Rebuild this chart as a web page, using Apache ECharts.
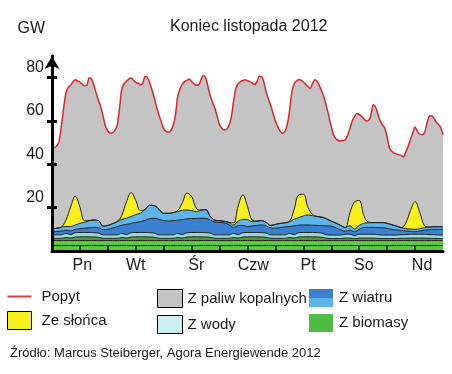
<!DOCTYPE html>
<html><head><meta charset="utf-8">
<script src="https://cdn.jsdelivr.net/npm/echarts@6/dist/echarts.min.js"></script>
<style>html,body{margin:0;padding:0;background:#fff}#c{width:452px;height:374px}</style>
</head><body><div id="c"></div>
<script>
// time axis of the stacked renewables (hours since Monday 00:00, every 2 h)
const hours2 = [0,2,4,6,8,10,12,14,16,18,20,22,24,26,28,30,32,34,36,38,40,42,44,46,48,50,52,54,56,58,60,62,64,66,68,70,72,74,76,78,80,82,84,86,88,90,92,94,96,98,100,102,104,106,108,110,112,114,116,118,120,122,124,126,128,130,132,134,136,138,140,142,144,146,148,150,152,154,156,158,160,162,164,166,168];

// demand (GW), hourly
const demandHours = [0,1,2,3,4,5,6,7,8,9,10,11,12,13,14,15,16,17,18,19,20,21,22,23,24,25,26,27,28,29,30,31,32,33,34,35,36,37,38,39,40,41,42,43,44,45,46,47,48,49,50,51,52,53,54,55,56,57,58,59,60,61,62,63,64,65,66,67,68,69,70,71,72,73,74,75,76,77,78,79,80,81,82,83,84,85,86,87,88,89,90,91,92,93,94,95,96,97,98,99,100,101,102,103,104,105,106,107,108,109,110,111,112,113,114,115,116,117,118,119,120,121,122,123,124,125,126,127,128,129,130,131,132,133,134,135,136,137,138,139,140,141,142,143,144,145,146,147,148,149,150,151,152,153,154,155,156,157,158,159,160,161,162,163,164,165,166,167,168];
const demand = [
48.0,47.8,48.5,50.5,57.5,66,73,75.5,76.5,78,79,78.5,78,77,76.3,76.5,80,79.3,76.5,72.8,69.5,66.3,62,57.5,
55.4,54.5,54.6,55.6,58,65.7,74.8,77.2,78.3,79.3,79.8,78.8,77.8,77.4,76.8,77.5,80.5,80,77.5,74.2,70.5,66.2,62.5,59.5,
56.5,55.2,54.8,55.5,57.8,62.5,71.2,74.8,77,78.2,78.8,79.4,78.2,77.2,76.5,76.6,79,81,80,76,71.7,68.5,65.9,62,
58.2,56.6,55.8,56.2,57.8,61.5,69,75,77.3,78.2,78.7,79,78.6,78.2,77.5,76.8,78,80.5,80.5,78,73.5,70,67,63.5,
60,57.5,55.3,54.4,55,58,64,73,77,78.5,79.2,78.8,78,77,75.8,75,77.5,79,78.2,76,73.5,70.5,66.5,62,
57.5,53.6,51.8,51,50.8,51,51.3,53.3,56.5,60,62,63.5,63,62.2,61,60,60.2,62.5,67.5,66.5,63.3,60,58.2,56.7,
52.5,47.5,46,45.2,44.8,44.5,44.1,43.4,45.8,48.2,51.5,54.5,57.2,55.2,54,53.7,54.5,58.5,62,62.4,61.5,59.6,58.5,57,
53.6];

// renewable layers (GW, thickness of each layer, every 2 h)
const greenBase = [2.5,2.5,2.5,2.5,2.5,2.5,2.5,2.5,2.5,2.5,2.5,2.5,2.5,2.5,2.5,2.5,2.5,2.5,2.5,2.5,2.5,2.5,2.5,2.5,2.5,2.5,2.5,2.5,2.5,2.5,2.5,2.5,2.5,2.5,2.5,2.5,2.5,2.5,2.5,2.5,2.5,2.5,2.5,2.5,2.5,2.5,2.5,2.5,2.5,2.5,2.5,2.5,2.5,2.5,2.5,2.5,2.5,2.5,2.5,2.5,2.5,2.5,2.5,2.5,2.5,2.5,2.5,2.5,2.5,2.5,2.5,2.5,2.5,2.5,2.5,2.5,2.5,2.5,2.5,2.5,2.5,2.5,2.5,2.5,2.5];
const greenUpper = [2.35,2.35,2.35,2.35,2.35,2.35,2.35,2.35,2.35,2.35,2.35,2.35,2.35,2.35,2.35,2.35,2.35,2.35,2.35,2.35,2.35,2.35,2.35,2.35,2.35,2.35,2.35,2.35,2.35,2.35,2.35,2.35,2.35,2.35,2.35,2.35,2.35,2.35,2.35,2.35,2.35,2.35,2.35,2.35,2.35,2.35,2.35,2.35,2.35,2.35,2.35,2.35,2.35,2.35,2.35,2.35,2.35,2.35,2.35,2.35,2.35,2.35,2.35,2.35,2.35,2.35,2.35,2.35,2.35,2.35,2.35,2.35,2.35,2.35,2.35,2.35,2.35,2.35,2.35,2.35,2.35,2.35,2.35,2.35,2.35];
const biomassDark = [
1.0,1.0,1.0,1.4,1.1,1.6,1.7,1.7,1.7,1.6,1.5,1.0,
1.0,1.0,1.0,1.4,1.1,1.6,1.7,1.7,1.7,1.6,1.5,1.0,
1.0,1.0,1.0,1.4,1.1,1.6,1.7,1.7,1.7,1.6,1.5,1.0,
1.0,1.0,1.0,1.4,1.1,1.6,1.7,1.7,1.7,1.6,1.5,1.0,
1.0,1.0,1.0,1.4,1.1,1.6,1.7,1.7,1.7,1.6,1.5,1.0,
0.9,0.9,0.9,1.1,1.1,0.8,1.1,1.1,1.1,1.1,1.0,0.9,
0.9,0.9,0.9,1.0,1.0,1.1,1.1,1.1,1.1,1.0,1.0,0.9,
0.9];
const hydro = [
1.6,1.6,1.6,1.9,1.6,2.0,2.0,2.0,2.0,2.0,1.9,1.6,
1.6,1.6,1.6,1.9,1.6,2.0,2.0,2.0,2.0,2.0,1.9,1.6,
1.6,1.6,1.6,1.9,1.6,2.0,2.0,2.0,2.0,2.0,1.9,1.6,
1.6,1.6,1.6,1.9,1.6,2.0,2.0,2.0,2.0,2.0,1.9,1.6,
1.6,1.6,1.6,1.9,1.6,2.0,2.0,2.0,2.0,2.0,1.9,1.6,
1.6,1.6,1.6,1.8,1.8,1.4,1.8,1.8,1.8,1.8,1.7,1.6,
1.6,1.6,1.6,1.7,1.7,1.8,1.8,1.8,1.8,1.7,1.7,1.6,
1.6];
const windDark = [
1.45,1.55,1.75,1.35,1.75,1.55,1.75,1.95,2.25,2.45,2.55,2.45,
2.55,3.15,3.75,3.75,4.75,4.25,4.65,4.95,5.65,6.45,6.85,7.15,
6.55,6.45,6.55,6.05,6.95,6.35,6.45,6.45,6.55,6.65,5.95,5.95,
5.75,5.55,4.75,2.75,4.15,3.35,2.75,3.05,3.25,3.55,3.35,3.15,
3.05,3.35,3.65,3.15,4.05,3.45,3.45,3.45,3.35,3.35,3.45,4.15,
4.15,3.35,2.45,1.35,1.85,1.85,2.25,3.15,3.15,3.15,3.25,3.45,
3.05,2.65,2.35,1.95,1.75,1.25,1.15,1.45,1.85,2.25,2.45,2.65,
2.65];
const windLight = [
1.3,1.5,1.8,1.8,2.0,2.0,2.5,2.7,3.2,3.4,3.2,1.6,
1.8,2.0,2.4,2.6,2.9,3.2,3.6,4.0,5.0,6.2,5.8,4.6,
3.4,3.5,3.7,4.0,4.3,4.1,3.6,3.2,3.8,4.0,1.8,0.8,
0.8,0.7,1.0,1.1,2.1,2.8,3.2,1.9,2.0,2.0,1.6,1.2,
1.8,1.9,1.9,2.3,3.0,3.5,4.2,4.6,4.4,4.1,3.9,3.2,
2.3,2.2,2.0,1.7,2.0,1.3,1.8,1.9,2.1,2.2,2.3,2.3,
2.4,2.1,1.8,1.3,1.1,1.1,1.1,1.1,1.2,1.2,1.2,1.2,
1.2];
const solar = [
0,0,0,3,9,13.3,7.5,0.8,0,0,0,0,
0,0,0,2,7.5,11,6.5,1.2,0,0,0,0,
0,0,0,0.5,3.5,7.8,6.5,1.5,0,0,0,0,
0,0,0,1,7,11.3,6,0.8,0,0,0,0,
0,0,0,0,4.5,10.5,10,3.5,0.5,0,0,0,
0,0,0,0,6,12.5,11.5,3.5,0.3,0,0,0,
0,0,0,0,2.5,8.5,12.8,7.5,1,0,0,0,
0];

// axis labels
const dayLabels = ['Pn','Wt','Śr','Czw','Pt','So','Nd'];
const dayLabelHours = [13,36,62,86.5,110,134,159];
const tickHours = [12,24,36,48,60,72,84,96,108,120,132,144,156];
const yTicks = [20,40,60,80];

const FONT = '"Liberation Sans", Arial, sans-serif';
const TXT = '#1a1a1a';
const C = {
  green: '#5ccb3c', olive: '#4f9d33', hydro: '#95dad6', windDark: '#3b7fd0',
  windLight: '#5cb6ea', sun: '#f7ef1e', fossil: '#c4c4c4', demand: '#d8262a'
};

function layer(name, values, color) {
  return {
    name: name, type: 'line', xAxisIndex: 0, stack: 'ee', data: values,
    smooth: 0.4, symbol: 'none', z: 3,
    lineStyle: { color: '#1f1f1f', width: 1 },
    itemStyle: { color: color },
    areaStyle: { color: color, opacity: 1 }
  };
}
const demandPairs = demandHours.map((h, i) => [h, demand[i]]);

const chart = echarts.init(document.getElementById('c'));
chart.setOption({
  animation: false,
  textStyle: { fontFamily: FONT },
  title: [
    { text: 'Koniec listopada 2012', left: 170, top: 19, padding: 0,
      textStyle: { fontSize: 16, fontWeight: 'normal', color: TXT, fontFamily: FONT } },
    { text: 'Źródło: Marcus Steiberger, Agora Energiewende 2012', left: 10, top: 347, padding: 0,
      textStyle: { fontSize: 13, fontWeight: 'normal', color: TXT, fontFamily: FONT } }
  ],
  grid: { left: 52, right: 9, top: 56, bottom: 123, containLabel: false },
  xAxis: [
    { type: 'category', data: hours2, boundaryGap: false, show: false, position: 'bottom' },
    { type: 'value', min: 0, max: 168, position: 'bottom', z: 10,
      axisLine: { onZero: false, lineStyle: { color: '#000', width: 3 } },
      axisTick: { inside: true, length: 5, customValues: tickHours, lineStyle: { color: '#000', width: 1.5 } },
      axisLabel: { show: true, customValues: dayLabelHours,
        formatter: function (v) { return dayLabels[dayLabelHours.indexOf(v)] || ''; },
        fontSize: 16, color: TXT, margin: 7, fontFamily: FONT },
      splitLine: { show: false } }
  ],
  yAxis: [
    { type: 'value', min: 0, max: 90, position: 'left', z: 10,
      name: 'GW', nameLocation: 'end', nameGap: 19,
      nameTextStyle: { fontSize: 16, color: TXT, align: 'right', padding: [0, 7, 0, 0], fontFamily: FONT },
      axisLine: { show: true, onZero: false, symbol: ['none', 'arrow'], symbolSize: [11, 13],
        lineStyle: { color: '#000', width: 3 } },
      axisTick: { show: true, length: 5, customValues: yTicks, lineStyle: { color: '#000', width: 3 } },
      axisLabel: { customValues: yTicks, fontSize: 16, color: TXT, margin: 8,
        verticalAlign: 'bottom', padding: [0, 0, 2, 0], fontFamily: FONT },
      splitLine: { show: false } },
    { type: 'value', min: 0, max: 90, position: 'left', z: 10,
      axisLine: { show: false },
      axisTick: { show: true, inside: true, length: 5, customValues: yTicks, lineStyle: { color: '#000', width: 3 } },
      axisLabel: { show: false }, splitLine: { show: false } }
  ],
  legend: [
    { left: 7, top: 289, orient: 'vertical', itemWidth: 24, itemHeight: 18, itemGap: 7, padding: 0,
      selectedMode: false, textStyle: { fontSize: 15, color: TXT, padding: [0, 0, 0, 5], fontFamily: FONT },
      data: [
        { name: 'Popyt', icon: 'path://M0,0h24v2h-24z', itemStyle: { color: '#c8443f', borderWidth: 0 } },
        { name: 'Ze słońca', icon: 'rect', itemStyle: { color: C.sun, borderColor: '#000', borderWidth: 1 } }
      ] },
    { left: 157, top: 289, orient: 'vertical', itemWidth: 25, itemHeight: 18, itemGap: 7, padding: 0,
      selectedMode: false, textStyle: { fontSize: 15, color: TXT, fontFamily: FONT },
      data: [
        { name: 'Z paliw kopalnych', icon: 'rect', itemStyle: { color: C.fossil, borderColor: '#000', borderWidth: 1 } },
        { name: 'Z wody', icon: 'rect', itemStyle: { color: '#cdeef4', borderColor: '#000', borderWidth: 1 } }
      ] },
    { left: 309, top: 289, orient: 'vertical', itemWidth: 24, itemHeight: 18, itemGap: 7, padding: 0,
      selectedMode: false, textStyle: { fontSize: 15, color: TXT, padding: [0, 0, 0, 1], fontFamily: FONT },
      data: [
        { name: 'Z wiatru', icon: 'rect', itemStyle: { borderWidth: 0,
          color: { type: 'linear', x: 0, y: 0, x2: 0, y2: 1, colorStops: [
            { offset: 0, color: C.windDark }, { offset: 0.5, color: C.windDark },
            { offset: 0.5, color: C.windLight }, { offset: 1, color: C.windLight } ] } } },
        { name: 'Z biomasy', icon: 'rect', itemStyle: { color: '#4dbd45', borderWidth: 0 } }
      ] }
  ],
  series: [
    { name: 'Z paliw kopalnych', type: 'line', xAxisIndex: 1, data: demandPairs, smooth: 0.3,
      symbol: 'none', z: 1, lineStyle: { width: 0 }, itemStyle: { color: C.fossil },
      areaStyle: { color: C.fossil, opacity: 1 } },
    layer('Z biomasy', greenBase, C.green),
    layer('Z biomasy', greenUpper, C.green),
    layer('Z biomasy', biomassDark, C.olive),
    layer('Z wody', hydro, C.hydro),
    layer('Z wiatru', windDark, C.windDark),
    layer('Z wiatru', windLight, C.windLight),
    layer('Ze słońca', solar, C.sun),
    { name: 'Popyt', type: 'line', xAxisIndex: 1, data: demandPairs, smooth: 0.3,
      symbol: 'none', z: 5, lineStyle: { color: C.demand, width: 1.5 }, itemStyle: { color: C.demand } }
  ]
});
</script>
</body></html>
